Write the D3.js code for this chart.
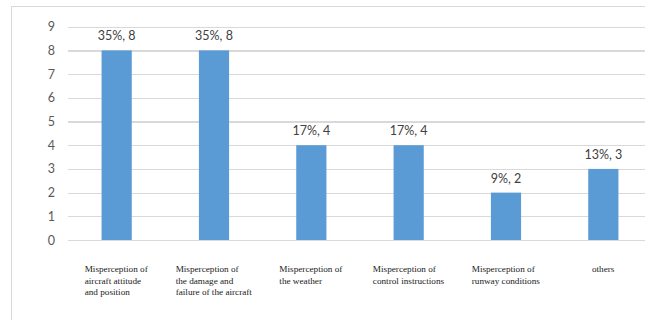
<!DOCTYPE html>
<html>
<head>
<meta charset="utf-8">
<script src="https://cdn.jsdelivr.net/npm/d3@7/dist/d3.min.js"></script>
<style>
  html, body { margin: 0; padding: 0; background: #fff; }
  svg { display: block; }
</style>
</head>
<body>
<svg id="chart" width="645" height="320"></svg>
<script>
// Misperception categories, each label split into its printed lines
const categories = [
  ["Misperception of", "aircraft attitude", "and position"],
  ["Misperception of", "the damage and", "failure of the aircraft"],
  ["Misperception of", "the weather"],
  ["Misperception of", "control instructions"],
  ["Misperception of", "runway conditions"],
  ["others"]
];
const counts = [8, 8, 4, 4, 2, 3];
const shares = ["35%", "35%", "17%", "17%", "9%", "13%"];
const yTicks = [0, 1, 2, 3, 4, 5, 6, 7, 8, 9];

const svg = d3.select("#chart");
const W = 645, H = 320;
const plot = { left: 68, right: 652, top: 26.7, bottom: 240 };

// chart frame (runs off the right and bottom edges)
svg.append("rect")
  .attr("x", 11.5).attr("y", 6.5)
  .attr("width", W + 20).attr("height", H + 20)
  .attr("fill", "none").attr("stroke", "#d9d9d9").attr("stroke-width", 1);

const x = d3.scaleBand()
  .domain(d3.range(categories.length))
  .range([plot.left, plot.right])
  .paddingInner(0.69)
  .paddingOuter(0.345);

const y = d3.scaleLinear()
  .domain([0, 9])
  .range([plot.bottom, plot.top]);

// horizontal gridlines and value labels
const yAxis = d3.axisLeft(y)
  .tickValues(yTicks)
  .tickSize(-(W - plot.left))
  .tickPadding(13)
  .tickFormat(d3.format("d"));

const gy = svg.append("g")
  .attr("transform", `translate(${plot.left},0)`)
  .call(yAxis);
gy.select(".domain").remove();
gy.selectAll(".tick line")
  .attr("stroke", "#d9d9d9").attr("stroke-width", 1.2)
  .attr("shape-rendering", "crispEdges");
gy.selectAll(".tick text")
  .attr("fill", "#595959")
  .style("font-family", "Lato, 'Open Sans', sans-serif")
  .style("font-size", "12.5px");

// bars
svg.append("g").selectAll("rect")
  .data(counts)
  .join("rect")
  .attr("x", (d, i) => x(i))
  .attr("y", d => y(d))
  .attr("width", x.bandwidth())
  .attr("height", d => y(0) - y(d))
  .attr("fill", "#5b9bd5");

// data labels: share and count
svg.append("g").selectAll("text")
  .data(counts)
  .join("text")
  .attr("x", (d, i) => x(i) + x.bandwidth() / 2)
  .attr("y", d => y(d) - 10)
  .attr("text-anchor", "middle")
  .attr("fill", "#404040")
  .style("font-family", "Lato, 'Open Sans', sans-serif")
  .style("font-size", "12.5px")
  .text((d, i) => `${shares[i]}, ${d}`);

// category labels: left-aligned lines, block centred under each bar
const lineH = 11.5;
const labels = svg.append("g").selectAll("g")
  .data(categories)
  .join("g");

labels.each(function (lines, i) {
  const g = d3.select(this);
  const t = g.append("text")
    .attr("fill", "#1a1a1a")
    .style("font-family", "'Liberation Serif', 'Times New Roman', serif")
    .style("font-size", "9.2px");
  t.selectAll("tspan")
    .data(lines)
    .join("tspan")
    .attr("x", 0)
    .attr("y", (d, k) => k * lineH)
    .text(d => d);
  const bw = t.node().getBBox().width;
  const cx = x(i) + x.bandwidth() / 2;
  g.attr("transform", `translate(${cx - bw / 2},${plot.bottom + 32})`);
});
</script>
</body>
</html>
